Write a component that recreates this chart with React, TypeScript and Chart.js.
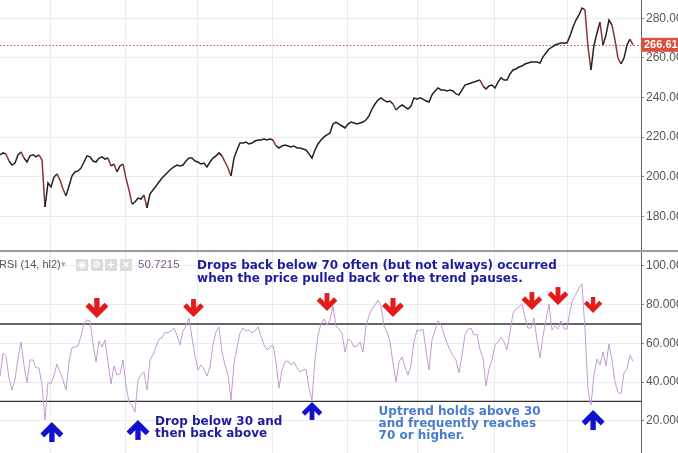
import React, { useEffect, useRef } from 'react';
import { Chart, registerables } from 'chart.js';

Chart.register(...registerables);

// ---------- data ----------
// price closes, one sample every index unit
const priceValues = [
  211.0, 212.0, 211.5, 207.9, 205.9, 206.9, 211.0, 212.5, 209.4, 207.4,
  210.5, 211.0, 210.0, 211.0, 208.4, 184.7, 196.8, 194.8, 199.8, 201.4,
  198.3, 193.8, 190.3, 195.3, 200.4, 202.4, 202.9, 204.4, 207.4, 210.5,
  210.0, 207.9, 207.4, 209.4, 210.0, 208.9, 209.4, 205.4, 206.4, 202.4,
  205.4, 206.4, 199.3, 193.3, 186.2, 187.2, 189.2, 188.7, 190.8, 184.2,
  191.3, 193.3, 195.3, 197.3, 199.3, 200.9, 202.4, 203.9, 204.9, 205.9,
  205.4, 205.9, 207.9, 209.4, 209.4, 207.9, 207.4, 206.4, 206.9, 204.9,
  207.4, 209.4, 210.5, 212.0, 210.5, 207.4, 204.4, 200.4, 209.4, 213.5,
  217.0, 217.0, 217.5, 216.5, 217.0, 218.0, 218.5, 218.5, 219.0, 218.5,
  219.0, 218.5, 215.5, 214.5, 215.5, 216.0, 215.5, 215.0, 215.5, 214.5,
  214.5, 214.0, 213.5, 211.5, 209.4, 213.5, 216.5, 218.5, 220.1, 221.1,
  222.1, 226.6, 227.6, 226.6, 225.6, 224.6, 226.6, 227.6, 227.1, 226.6,
  227.1, 227.6, 228.6, 230.7, 234.2, 236.7, 238.7, 239.8, 238.7, 237.7,
  238.2, 236.7, 233.7, 235.2, 236.2, 235.2, 234.2, 235.7, 239.8, 239.2,
  239.8, 239.2, 238.2, 237.7, 241.3, 243.3, 244.8, 243.8, 243.8, 243.3,
  243.8, 243.3, 241.8, 241.3, 243.8, 246.3, 246.8, 247.3, 247.8, 248.3,
  248.8, 245.8, 244.3, 245.8, 246.3, 244.8, 247.8, 249.9, 248.8, 248.8,
  251.9, 253.9, 254.4, 255.4, 255.9, 256.9, 257.4, 257.9, 257.9, 257.9,
  257.4, 260.5, 262.5, 264.5, 265.5, 266.5, 267.0, 267.5, 267.5, 267.5,
  271.1, 275.6, 279.1, 281.7, 285.2, 284.2, 265.5, 253.9, 266.5, 272.6,
  278.1, 266.5, 271.6, 279.1, 276.6, 269.0, 259.9, 256.9, 259.9, 266.5,
  269.5, 266.61,
];
const PRICE_STEP = 1;

// RSI(14, hl2), one sample every index unit
const rsiValues = [
  42.8, 54.9, 53.5, 42.1, 35.9, 41.1, 52.4, 60.7, 48.8, 39.5,
  51.4, 51.4, 47.3, 47.3, 38.5, 20.4, 40.0, 39.0, 43.6, 49.3,
  45.2, 41.1, 35.9, 50.4, 57.6, 58.1, 58.6, 63.8, 70.0, 72.1,
  71.6, 59.7, 50.4, 61.2, 58.1, 61.7, 50.4, 39.0, 48.3, 43.6,
  44.2, 51.4, 38.0, 29.7, 28.1, 24.5, 41.1, 43.6, 45.2, 35.9,
  51.4, 54.0, 58.1, 62.2, 62.8, 65.9, 65.4, 66.4, 67.9, 64.3,
  59.2, 66.4, 69.0, 73.1, 62.8, 53.5, 46.2, 48.8, 46.7, 43.1,
  47.8, 59.2, 65.9, 68.5, 55.5, 48.8, 43.6, 30.7, 49.8, 57.6,
  65.4, 67.9, 66.4, 66.9, 65.4, 66.4, 68.5, 63.8, 59.2, 56.6,
  58.1, 59.2, 50.4, 36.9, 46.2, 50.4, 50.9, 48.8, 50.4, 47.3,
  45.2, 46.2, 46.7, 36.9, 30.7, 51.4, 64.3, 70.0, 72.6, 69.5,
  72.1, 79.3, 69.0, 67.4, 65.4, 55.5, 62.2, 61.2, 58.1, 58.6,
  60.7, 55.5, 69.0, 74.2, 77.8, 79.8, 82.4, 79.3, 69.0, 65.9,
  60.7, 49.8, 40.0, 50.4, 53.0, 47.8, 43.6, 48.8, 60.7, 66.9,
  66.4, 67.4, 56.6, 46.2, 61.7, 66.9, 71.6, 69.5, 64.8, 60.2,
  56.6, 53.5, 51.4, 44.7, 54.0, 64.3, 67.4, 67.9, 64.3, 64.8,
  56.6, 52.4, 38.0, 46.7, 51.4, 59.2, 60.7, 63.3, 60.7, 56.6,
  65.4, 75.7, 77.8, 78.8, 80.3, 73.6, 67.9, 67.9, 73.1, 61.7,
  52.4, 63.8, 72.1, 80.3, 66.9, 69.0, 67.4, 71.6, 67.4, 67.4,
  76.7, 82.9, 85.5, 88.6, 90.7, 66.9, 35.9, 28.1, 43.6, 51.9,
  48.8, 55.5, 48.3, 59.7, 51.4, 40.0, 34.8, 33.8, 44.7, 46.7,
  54.0, 50.72,
];
const RSI_STEP = 1;

const X_MIN = 0;
const X_MAX = 213.67;
const xGridTicks = [16.67, 41.67, 65.67, 91, 115.67, 139.33, 165, 189.33];
const priceTicks = [180, 200, 220, 240, 260, 280];
const rsiTicks = [20, 40, 60, 80, 100];
const PRICE_MIN = 162.97;
const PRICE_MAX = 289.24;
const RSI_MIN = 3.3;
const RSI_MAX = 108.27;
const LAST_PRICE = 266.61;
const LAST_RSI = '50.7215';
const rsiBands = [70, 30];

// annotations (data units)
const downArrows = [
  { x: 32.3, y: 73.1, size: 20 },
  { x: 64.5, y: 73.6, size: 18 },
  { x: 109, y: 76.7, size: 18 },
  { x: 131, y: 73.6, size: 19 },
  { x: 177.3, y: 77.2, size: 18 },
  { x: 186, y: 79.8, size: 18 },
  { x: 197.7, y: 75.7, size: 16 },
];
const upArrows = [
  { x: 17.3, y: 19.3, size: 20 },
  { x: 46, y: 20.4, size: 20 },
  { x: 104, y: 29.7, size: 18 },
  { x: 197.7, y: 25.5, size: 20 },
];
const noteDrops = ['Drops back below 70 often (but not always) occurred', 'when the price pulled back or the trend pauses.'];
const noteDrop30 = ['Drop below 30 and', 'then back above'];
const noteUptrend = ['Uptrend holds above 30', 'and frequently reaches', '70 or higher.'];
const notes = [
  { lines: noteDrops, x: 65.7, y: 100.0, color: '#1c1c9c', lh: 13 },
  { lines: noteDrop30, x: 51.7, y: 19.3, color: '#1c1c9c', lh: 11.7 },
  { lines: noteUptrend, x: 126.2, y: 24.4, color: '#4a7ccc', lh: 11.7 },
];

// ---------- layout/style ----------
const W = 678;
const PRICE_H = 250;
const RSI_H = 203;
const AXIS_W = 37;
const GRID = '#ebebeb';
const AXIS_FONT = { family: '"Liberation Sans", Arial, sans-serif', size: 12 };
const NOTE_FONT = 'bold 12px "DejaVu Sans", Verdana, sans-serif';

function xScale(): any {
  return {
    type: 'linear',
    min: X_MIN,
    max: X_MAX,
    display: true,
    ticks: { display: false },
    grid: { color: GRID, drawTicks: false, lineWidth: 1 },
    border: { display: false },
    afterBuildTicks: (s: any) => {
      s.ticks = xGridTicks.map((v) => ({ value: v }));
    },
    afterFit: (s: any) => {
      s.height = 0;
      s.paddingLeft = 0;
      s.paddingRight = 0;
      s.paddingTop = 0;
      s.paddingBottom = 0;
    },
  };
}

function yScale(min: number, max: number, ticks: number[], decimals: number): any {
  return {
    type: 'linear',
    position: 'right',
    min,
    max,
    afterBuildTicks: (s: any) => {
      s.ticks = ticks.map((v) => ({ value: v }));
    },
    afterFit: (s: any) => {
      s.width = AXIS_W;
      s.paddingTop = 0;
      s.paddingBottom = 0;
      s.paddingLeft = 0;
      s.paddingRight = 0;
    },
    ticks: {
      color: '#555',
      font: AXIS_FONT,
      padding: 2,
      autoSkip: false,
      callback: (v: any) => Number(v).toFixed(decimals),
    },
    grid: { color: GRID, tickColor: '#888', tickLength: 3, drawTicks: true },
    border: { display: true, color: '#666', width: 1 },
  };
}

function drawArrow(ctx: CanvasRenderingContext2D, cx: number, tipY: number, size: number, dir: 1 | -1, color: string) {
  // dir = 1: pointing down, -1: pointing up
  const t = size * 0.27;
  const w = size * 0.48;
  const off = t * 0.707;
  const vy = tipY - dir * off;
  ctx.save();
  ctx.strokeStyle = color;
  ctx.lineWidth = t;
  ctx.lineJoin = 'miter';
  ctx.lineCap = 'butt';
  ctx.beginPath();
  ctx.moveTo(cx - w, vy - dir * w);
  ctx.lineTo(cx, vy);
  ctx.lineTo(cx + w, vy - dir * w);
  ctx.stroke();
  ctx.beginPath();
  ctx.moveTo(cx, vy - dir * (size - off));
  ctx.lineTo(cx, vy - dir * 2);
  ctx.stroke();
  ctx.restore();
}

export default function App() {
  const priceRef = useRef<HTMLCanvasElement>(null);
  const rsiRef = useRef<HTMLCanvasElement>(null);

  useEffect(() => {
    document.body.style.margin = '0';

    const pricePlugin = {
      id: 'priceDeco',
      beforeDatasetsDraw(chart: any) {
        const { ctx, chartArea: a, scales } = chart;
        const py = Math.round(scales.y.getPixelForValue(LAST_PRICE)) + 0.5;
        ctx.save();
        ctx.strokeStyle = '#c0504d';
        ctx.lineWidth = 1;
        ctx.setLineDash([1.5, 2]);
        ctx.beginPath();
        ctx.moveTo(a.left, py);
        ctx.lineTo(a.right, py);
        ctx.stroke();
        ctx.restore();
      },
      afterDraw(chart: any) {
        const { ctx, chartArea: a, scales } = chart;
        const py = scales.y.getPixelForValue(LAST_PRICE);
        ctx.save();
        ctx.fillStyle = '#d9503f';
        ctx.fillRect(a.right, py - 7, W - a.right, 14);
        ctx.fillStyle = '#fff';
        ctx.font = 'bold 11px "Liberation Sans", Arial, sans-serif';
        ctx.textBaseline = 'middle';
        ctx.textAlign = 'left';
        ctx.fillText(LAST_PRICE.toFixed(2), a.right + 3, py + 0.5);
        ctx.restore();
      },
    };

    const rsiPlugin = {
      id: 'rsiDeco',
      beforeDatasetsDraw(chart: any) {
        const { ctx, chartArea: a, scales } = chart;
        ctx.save();
        ctx.strokeStyle = '#333';
        ctx.lineWidth = 1.4;
        rsiBands.forEach((b) => {
          const y = scales.y.getPixelForValue(b);
          ctx.beginPath();
          ctx.moveTo(a.left, y);
          ctx.lineTo(a.right, y);
          ctx.stroke();
        });
        ctx.restore();
      },
      afterDraw(chart: any) {
        const { ctx, chartArea: a, scales } = chart;
        const xs = scales.x;
        const ys = scales.y;
        ctx.save();
        // panel separator
        ctx.fillStyle = '#9a9a9a';
        ctx.fillRect(0, 0, W, 2);
        // header
        ctx.textBaseline = 'middle';
        ctx.textAlign = 'left';
        ctx.font = '11px "Liberation Sans", Arial, sans-serif';
        ctx.fillStyle = '#555';
        ctx.fillText('RSI (14, hl2)', a.left - 1, 15);
        ctx.fillStyle = '#aaa';
        ctx.font = '9px "DejaVu Sans", sans-serif';
        ctx.fillText('\u25BE', a.left + 61, 15);
        const icons = ['\u25C9', '\u2699', '+', '\u00D7'];
        [76, 91, 105, 120].forEach((ix, k) => {
          ctx.fillStyle = '#dcdcdc';
          ctx.fillRect(a.left + ix, 9, 12, 12);
          ctx.fillStyle = '#fff';
          ctx.font = 'bold 10px "DejaVu Sans", sans-serif';
          ctx.textAlign = 'center';
          ctx.fillText(icons[k], a.left + ix + 6, 15.5);
        });
        ctx.textAlign = 'left';
        ctx.font = '11.5px "Liberation Sans", Arial, sans-serif';
        ctx.fillStyle = '#7a5a96';
        ctx.fillText(LAST_RSI, a.left + 138, 15);

        // arrows
        downArrows.forEach((d) => drawArrow(ctx, xs.getPixelForValue(d.x), ys.getPixelForValue(d.y), d.size, 1, '#e41b1b'));
        upArrows.forEach((d) => drawArrow(ctx, xs.getPixelForValue(d.x), ys.getPixelForValue(d.y), d.size, -1, '#1212cc'));

        // notes
        ctx.font = NOTE_FONT;
        ctx.textBaseline = 'middle';
        notes.forEach((n) => {
          const nx = xs.getPixelForValue(n.x);
          const ny = ys.getPixelForValue(n.y);
          ctx.fillStyle = n.color;
          n.lines.forEach((line, i) => ctx.fillText(line, nx, ny + i * n.lh));
        });
        ctx.restore();
      },
    };

    const commonOpts = (min: number, max: number, ticks: number[], dec: number): any => ({
      animation: false,
      responsive: false,
      events: [],
      layout: { padding: 0 },
      plugins: { legend: { display: false }, tooltip: { enabled: false } },
      scales: { x: xScale(), y: yScale(min, max, ticks, dec) },
    });

    const priceChart = new Chart(priceRef.current as HTMLCanvasElement, {
      type: 'line',
      data: {
        datasets: [
          {
            data: priceValues.map((v, i) => ({ x: i * PRICE_STEP, y: v })),
            borderColor: '#222',
            borderWidth: 1.5,
            pointRadius: 0,
            tension: 0,
            segment: {
              borderColor: (c: any) => (c.p0.parsed.y - c.p1.parsed.y > 2.5 ? '#8a3333' : '#222'),
            },
          } as any,
        ],
      },
      options: commonOpts(PRICE_MIN, PRICE_MAX, priceTicks, 2),
      plugins: [pricePlugin],
    });

    const rsiChart = new Chart(rsiRef.current as HTMLCanvasElement, {
      type: 'line',
      data: {
        datasets: [
          {
            data: rsiValues.map((v, i) => ({ x: i * RSI_STEP, y: v })),
            borderColor: '#c39ad5',
            borderWidth: 1,
            pointRadius: 0,
            tension: 0,
          } as any,
        ],
      },
      options: commonOpts(RSI_MIN, RSI_MAX, rsiTicks, 4),
      plugins: [rsiPlugin],
    });

    return () => {
      priceChart.destroy();
      rsiChart.destroy();
    };
  }, []);

  return (
    <div style={{ position: 'fixed', left: 0, top: 0, width: W, height: PRICE_H + RSI_H, background: '#fff' }}>
      <canvas ref={priceRef} width={W} height={PRICE_H} style={{ display: 'block', width: W, height: PRICE_H }} />
      <canvas ref={rsiRef} width={W} height={RSI_H} style={{ display: 'block', width: W, height: RSI_H }} />
    </div>
  );
}
